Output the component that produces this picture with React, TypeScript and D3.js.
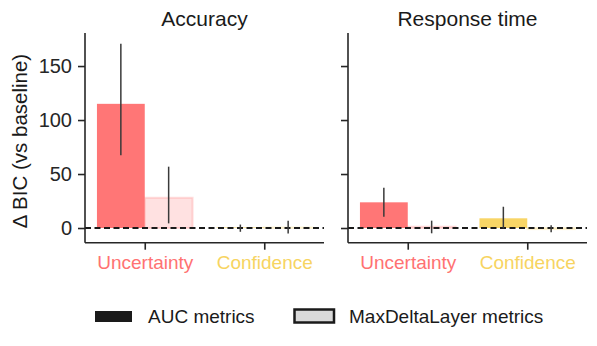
import React, {useEffect, useRef} from "react";
import * as d3 from "d3";

const panels = ["Accuracy", "Response time"];
const categories = ["Uncertainty", "Confidence"];
const metrics = ["AUC metrics", "MaxDeltaLayer metrics"];

// [panel][category] values, mean and error range
const aucMean = [[115, 0.5], [23.8, 9]];
const aucLow = [[67.3, -3.5], [10.5, -0.5]];
const aucHigh = [[170.6, 3.2], [37.3, 19.7]];
const maxMean = [[28, 0.4], [1.2, -1]];
const maxLow = [[4.3, -5], [-4.9, -4]];
const maxHigh = [[56.8, 6.8], [6.8, 2.5]];

const yTicks = [0, 50, 100, 150];
const catColors = ["#ff7676", "#f8d566"];
const labelColors = ["#ff7272", "#f7d461"];

const font = "'Liberation Sans', Arial, sans-serif";

export default function App() {
  const ref = useRef<SVGSVGElement>(null);

  useEffect(() => {
    const svg = d3.select(ref.current);
    svg.selectAll("*").remove();

    const y = d3.scaleLinear().domain([-13.6, 180.6]).range([242.7, 33]);
    const panelX = [85, 348];
    const pw = 239;

    panels.forEach((title, p) => {
      const x = d3.scaleLinear().domain([-0.5, 1.5]).range([panelX[p], panelX[p] + pw]);
      const g = svg.append("g");

      // bars
      categories.forEach((c, i) => {
        const a = aucMean[p][i];
        g.append("rect")
          .attr("x", x(i - 0.4)).attr("width", x(i) - x(i - 0.4))
          .attr("y", y(Math.max(a, 0))).attr("height", Math.abs(y(a) - y(0)))
          .attr("fill", catColors[i]);
        const m = maxMean[p][i];
        g.append("rect")
          .attr("x", x(i)).attr("width", x(i + 0.4) - x(i))
          .attr("y", y(Math.max(m, 0))).attr("height", Math.abs(y(m) - y(0)))
          .attr("fill", catColors[i]).attr("fill-opacity", 0.22)
          .attr("stroke", catColors[i]).attr("stroke-opacity", 0.25).attr("stroke-width", 2);
      });

      // zero line
      g.append("line")
        .attr("x1", x(-0.5)).attr("x2", x(1.5))
        .attr("y1", y(0)).attr("y2", y(0))
        .attr("stroke", "#1a1a1a").attr("stroke-width", 1.8)
        .attr("stroke-dasharray", "6,3.5");

      // error bars
      categories.forEach((c, i) => {
        const xa = x(i - 0.2), xm = x(i + 0.2);
        g.append("line").attr("x1", xa).attr("x2", xa)
          .attr("y1", y(aucLow[p][i])).attr("y2", y(aucHigh[p][i]))
          .attr("stroke", "#3a3a3a").attr("stroke-width", 1.5);
        g.append("line").attr("x1", xm).attr("x2", xm)
          .attr("y1", y(maxLow[p][i])).attr("y2", y(maxHigh[p][i]))
          .attr("stroke", "#3a3a3a").attr("stroke-width", 1.5);
      });

      // y axis
      const ya = g.append("g").attr("transform", `translate(${x(-0.5)},0)`)
        .call(d3.axisLeft(y).tickValues(yTicks).tickSize(7).tickFormat(p === 0 ? d3.format("d") : () => ""));
      ya.select(".domain").attr("d", `M0,${y.range()[0]}V${y.range()[1]}`)
        .attr("stroke", "#262626").attr("stroke-width", 1.6);
      ya.selectAll(".tick line").attr("stroke", "#262626").attr("stroke-width", 1.6);
      ya.selectAll(".tick text").attr("font-family", font).attr("font-size", 20)
        .attr("fill", "#262626").attr("x", -13);

      // x axis
      const xa = g.append("g").attr("transform", `translate(0,${y.range()[0]})`)
        .call(d3.axisBottom(x).tickValues([0, 1]).tickSize(7).tickFormat((d: any) => categories[d]));
      xa.select(".domain").attr("d", `M${x(-0.5)},0H${x(1.5)}`)
        .attr("stroke", "#262626").attr("stroke-width", 1.6);
      xa.selectAll(".tick line").attr("stroke", "#262626").attr("stroke-width", 1.6);
      xa.selectAll(".tick text").attr("font-family", font).attr("font-size", 19)
        .attr("fill", (d: any) => labelColors[d]).attr("y", 13);

      g.append("text")
        .attr("x", x(0.5)).attr("y", 26)
        .attr("text-anchor", "middle")
        .attr("font-family", font).attr("font-size", 21).attr("fill", "#1a1a1a")
        .text(title);
    });

    svg.append("text")
      .attr("transform", "translate(27,141) rotate(-90)")
      .attr("text-anchor", "middle")
      .attr("font-family", font).attr("font-size", 20.5).attr("fill", "#1a1a1a")
      .text("Δ BIC (vs baseline)");

    // legend
    const leg = svg.append("g");
    leg.append("rect").attr("x", 95).attr("y", 311).attr("width", 37).attr("height", 11)
      .attr("fill", "#1a1a1a");
    leg.append("text").attr("x", 148).attr("y", 322.5)
      .attr("font-family", font).attr("font-size", 19).attr("fill", "#1a1a1a")
      .text(metrics[0]);
    leg.append("rect").attr("x", 294.5).attr("y", 309.5).attr("width", 39.5).attr("height", 13)
      .attr("fill", "#d9d9d9").attr("stroke", "#1a1a1a").attr("stroke-width", 2.5);
    leg.append("text").attr("x", 349).attr("y", 322.5)
      .attr("font-family", font).attr("font-size", 19).attr("fill", "#1a1a1a")
      .text(metrics[1]);
  }, []);

  return (
    <svg ref={ref} width={597} height={346}
      style={{position: "absolute", left: 0, top: 0, background: "#fff"}} />
  );
}
